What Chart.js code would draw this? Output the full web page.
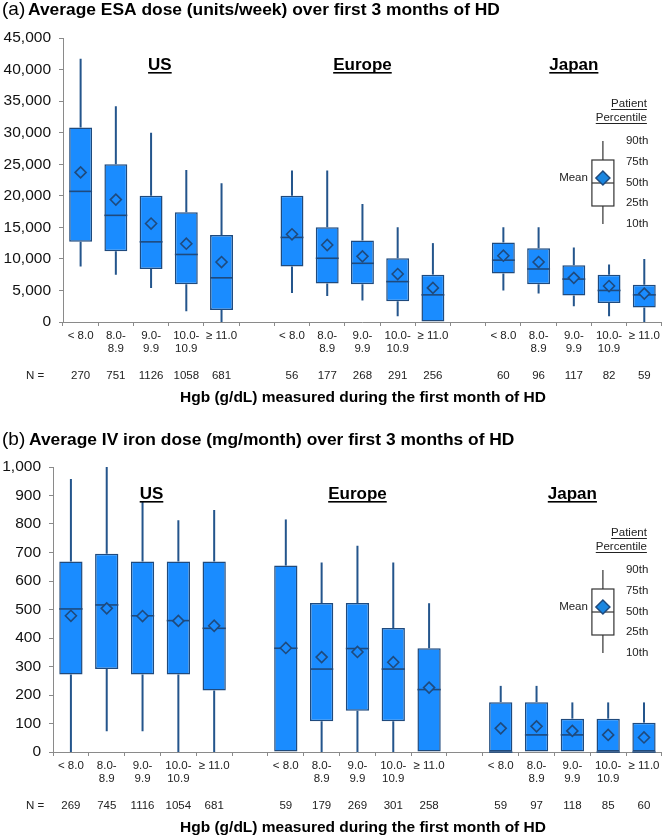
<!DOCTYPE html>
<html>
<head>
<meta charset="utf-8">
<script src="https://cdn.jsdelivr.net/npm/chart.js@4/dist/chart.umd.min.js"></script>
<style>
  body { margin: 0; background: #fff; }
  canvas { position: absolute; left: 0; }
  #esaChart { top: 0; }
  #ironChart { top: 420px; }
</style>
</head>
<body>
<canvas id="esaChart" width="669" height="420"></canvas>
<canvas id="ironChart" width="669" height="419"></canvas>
<script>
// Hgb groups, repeated for each region (US, Europe, Japan)
var hgbGroups = ['< 8.0', ['8.0-', '8.9'], ['9.0-', '9.9'], ['10.0-', '10.9'], '\u2265 11.0'];
var regions = ['US', 'Europe', 'Japan'];

// (a) ESA dose, units/week: US x5, Europe x5, Japan x5
var esaP90 = [41700, 34200, 30000, 24100, 22000, 24000, 24000, 18700, 15000, 12500, 15000, 15000, 11800, 9100, 10000];
var esaP75 = [30800, 25000, 20000, 17400, 13800, 20000, 15000, 12900, 10100, 7500, 12600, 11700, 9000, 7500, 5900];
var esaMedian = [20700, 16900, 12700, 10700, 7000, 13400, 10100, 9300, 6400, 4300, 9800, 8400, 6800, 5000, 4300];
var esaP25 = [12700, 11200, 8400, 6000, 1900, 8800, 6100, 6000, 3300, 0, 7700, 6000, 4200, 3000, 2300];
var esaP10 = [8800, 7500, 5400, 1700, 0, 4600, 4100, 3400, 900, 0, 5000, 4500, 2500, 900, 0];
var esaMean = [23700, 19400, 15600, 12400, 9500, 13900, 12200, 10400, 7600, 5400, 10500, 9500, 7000, 5700, 4500];
var esaN = [270, 751, 1126, 1058, 681, 56, 177, 268, 291, 256, 60, 96, 117, 82, 59];

// (b) IV iron dose, mg/month
var ironP90 = [958, 1000, 877, 813, 849, 816, 665, 724, 665, 522, 232, 232, 174, 174, 174];
var ironP75 = [668, 696, 668, 668, 668, 654, 523, 523, 435, 364, 175, 175, 117, 117, 103];
var ironMedian = [502, 516, 478, 461, 434, 364, 291, 363, 291, 219, 0, 60, 60, 0, 0];
var ironP25 = [272, 291, 272, 272, 216, 0, 108, 145, 108, 0, 0, 0, 0, 0, 0];
var ironP10 = [0, 73, 73, 0, 0, 0, 0, 0, 0, 0, 0, 0, 0, 0, 0];
var ironMean = [478, 504, 477, 460, 443, 365, 333, 351, 315, 226, 83, 90, 74, 60, 51];
var ironN = [269, 745, 1116, 1054, 681, 59, 179, 269, 301, 258, 59, 97, 118, 85, 60];

var BOX = '#1a8cff';
var EDGE = '#1f4a7d';
var WHISKER = '#24558c';
var FONT = '"Liberation Sans", Arial, sans-serif';

// one empty slot between regions
function toSlots(a) {
  return a.slice(0, 5).concat([null], a.slice(5, 10), [null], a.slice(10, 15));
}
var slotLabels = hgbGroups.concat([''], hgbGroups, [''], hgbGroups);

function underlined(ctx, text, x, y, align, lw) {
  ctx.textAlign = align;
  ctx.fillText(text, x, y);
  var w = ctx.measureText(text).width;
  var x0 = align === 'center' ? x - w / 2 : (align === 'right' ? x - w : x);
  ctx.fillRect(x0, y + 2, w, lw);
}

function makeExtras(p) {
  var p10 = toSlots(p.p10), p90 = toSlots(p.p90), med = toSlots(p.median), n = toSlots(p.n);
  return {
    id: 'extras',
    beforeDatasetsDraw: function (chart) {
      var ctx = chart.ctx, y = chart.scales.y;
      var bars = chart.getDatasetMeta(0).data;
      ctx.save();
      ctx.strokeStyle = WHISKER;
      ctx.lineWidth = 2;
      var box = chart.data.datasets[0].data;
      bars.forEach(function (b, i) {
        if (box[i] == null) return;
        ctx.beginPath();
        ctx.moveTo(b.x, y.getPixelForValue(p90[i]));
        ctx.lineTo(b.x, y.getPixelForValue(box[i][1]));
        ctx.moveTo(b.x, y.getPixelForValue(box[i][0]));
        ctx.lineTo(b.x, y.getPixelForValue(p10[i]));
        ctx.stroke();
      });
      ctx.restore();
    },
    afterDatasetDraw: function (chart, args) {
      if (args.index !== 0) return;
      var ctx = chart.ctx, y = chart.scales.y;
      ctx.save();
      ctx.strokeStyle = EDGE;
      ctx.lineWidth = 1.6;
      args.meta.data.forEach(function (b, i) {
        if (med[i] == null) return;
        var py = y.getPixelForValue(med[i]);
        ctx.beginPath();
        ctx.moveTo(b.x - b.width / 2, py);
        ctx.lineTo(b.x + b.width / 2, py);
        ctx.stroke();
      });
      ctx.restore();
    },
    afterDraw: function (chart) {
      var ctx = chart.ctx, x = chart.scales.x, area = chart.chartArea;
      var step = x.getPixelForValue(1) - x.getPixelForValue(0);
      ctx.save();
      ctx.fillStyle = '#000';
      ctx.textBaseline = 'alphabetic';

      // panel title
      ctx.font = '19px ' + FONT;
      ctx.textAlign = 'left';
      ctx.fillText(p.tag, 2, p.titleY);
      ctx.font = 'bold 17.4px ' + FONT;
      ctx.fillText(p.title, p.titleX, p.titleY);

      // region headings
      ctx.font = 'bold 17px ' + FONT;
      var regionSlots = [2.25, 8, 14];
      regions.forEach(function (r, k) {
        var cx = x.getPixelForValue(0) + regionSlots[k] * step;
        underlined(ctx, r, cx, area.top + 32, 'center', 1.6);
      });

      // N row
      ctx.font = '11.5px ' + FONT;
      ctx.fillStyle = '#222';
      ctx.textBaseline = 'middle';
      ctx.textAlign = 'center';
      ctx.fillText('N =', 35, area.bottom + 54);
      n.forEach(function (v, i) {
        if (v == null) return;
        ctx.fillText(String(v), x.getPixelForValue(i), area.bottom + 54);
      });

      // x axis title
      ctx.fillStyle = '#000';
      ctx.font = 'bold 15.5px ' + FONT;
      ctx.fillText('Hgb (g/dL) measured during the first month of HD', 363, area.bottom + 76);

      // percentile key
      var cx = area.right - 59, t = area.top;
      ctx.strokeStyle = '#333';
      ctx.lineWidth = 1.2;
      ctx.beginPath();
      ctx.moveTo(cx, t + 103); ctx.lineTo(cx, t + 122);
      ctx.moveTo(cx, t + 168); ctx.lineTo(cx, t + 186);
      ctx.stroke();
      ctx.fillStyle = '#fff';
      ctx.fillRect(cx - 11, t + 122, 22, 46);
      ctx.strokeRect(cx - 11, t + 122, 22, 46);
      ctx.beginPath();
      ctx.moveTo(cx - 11, t + 145); ctx.lineTo(cx + 11, t + 145);
      ctx.stroke();
      ctx.beginPath();
      ctx.moveTo(cx - 7, t + 140); ctx.lineTo(cx, t + 133);
      ctx.lineTo(cx + 7, t + 140); ctx.lineTo(cx, t + 147);
      ctx.closePath();
      ctx.fillStyle = '#1a86e0';
      ctx.fill();
      ctx.strokeStyle = EDGE;
      ctx.lineWidth = 1.5;
      ctx.stroke();

      ctx.fillStyle = '#222';
      ctx.font = '11.5px ' + FONT;
      ctx.textAlign = 'left';
      [['90th', 103], ['75th', 124], ['50th', 145], ['25th', 165], ['10th', 186]].forEach(function (l) {
        ctx.fillText(l[0], area.right - 36, t + l[1]);
      });
      ctx.textAlign = 'right';
      ctx.fillText('Mean', area.right - 74, t + 140);
      ctx.textBaseline = 'alphabetic';
      underlined(ctx, 'Patient', area.right - 15, t + 69, 'right', 1);
      underlined(ctx, 'Percentile', area.right - 15, t + 83, 'right', 1);
      ctx.restore();
    }
  };
}

function makeChart(id, p) {
  var lo = toSlots(p.p25), hi = toSlots(p.p75);
  return new Chart(document.getElementById(id), {
    type: 'bar',
    data: {
      labels: slotLabels,
      datasets: [{
        type: 'bar',
        data: lo.map(function (v, i) { return v == null ? null : [v, hi[i]]; }),
        backgroundColor: BOX,
        borderColor: EDGE,
        borderWidth: 1.5,
        borderSkipped: false,
        barPercentage: 0.65,
        categoryPercentage: 1,
        order: 2
      }, {
        type: 'line',
        data: toSlots(p.mean),
        showLine: false,
        pointStyle: 'rectRot',
        pointRadius: 5.5,
        pointHoverRadius: 5.5,
        pointBackgroundColor: BOX,
        pointBorderColor: EDGE,
        pointBorderWidth: 1.6,
        order: 1
      }]
    },
    options: {
      responsive: false,
      animation: false,
      devicePixelRatio: 1,
      layout: { padding: { top: p.top, right: 3, left: 0, bottom: 0 } },
      plugins: { legend: { display: false }, tooltip: { enabled: false } },
      scales: {
        x: {
          afterFit: function (s) { s.height = p.xHeight; },
          border: { color: '#8a8a8a' },
          grid: { drawOnChartArea: false, tickLength: 4, color: '#8a8a8a' },
          ticks: { color: '#222', padding: 3, maxRotation: 0, autoSkip: false,
                   font: { family: FONT, size: 11.5, lineHeight: 1.15 } }
        },
        y: {
          min: 0,
          max: p.max,
          afterFit: function (s) { s.width = p.yWidth; },
          border: { color: '#8a8a8a' },
          grid: { drawOnChartArea: false, tickLength: 4, color: '#8a8a8a' },
          ticks: { stepSize: p.step, color: '#111', padding: 8,
                   font: { family: FONT, size: 15.5 },
                   callback: function (v) { return v.toLocaleString('en-US'); } }
        }
      }
    },
    plugins: [makeExtras(p)]
  });
}

makeChart('esaChart', {
  tag: '(a)', title: 'Average ESA dose (units/week) over first 3 months of HD',
  titleX: 28, titleY: 15, top: 38, xHeight: 98, yWidth: 63, max: 45000, step: 5000,
  p10: esaP10, p25: esaP25, median: esaMedian, p75: esaP75, p90: esaP90, mean: esaMean, n: esaN
});

makeChart('ironChart', {
  tag: '(b)', title: 'Average IV iron dose (mg/month) over first 3 months of HD',
  titleX: 29, titleY: 25, top: 47, xHeight: 87, yWidth: 53, max: 1000, step: 100,
  p10: ironP10, p25: ironP25, median: ironMedian, p75: ironP75, p90: ironP90, mean: ironMean, n: ironN
});
</script>
</body>
</html>
